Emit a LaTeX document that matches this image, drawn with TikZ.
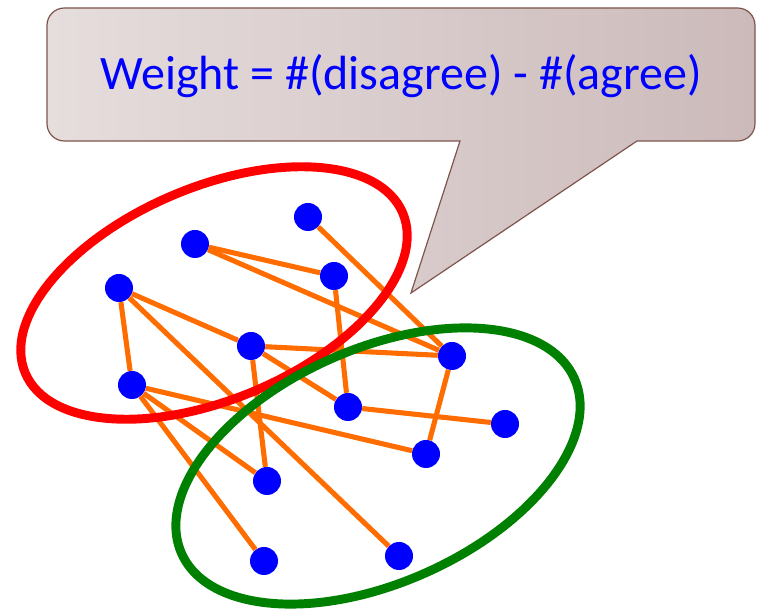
\documentclass[tikz,border=0pt]{standalone}
\usepackage{fontspec}
\setmainfont{Carlito}
\usepackage{xcolor}
\usepackage{tikz}
\usetikzlibrary{arrows.meta,positioning,calc}
\definecolor{cEdge}{RGB}{255,108,0}
\definecolor{cDot}{RGB}{0,0,255}
\definecolor{cRed}{RGB}{255,0,0}
\definecolor{cGreen}{RGB}{0,128,0}
\definecolor{cBubL}{RGB}{230,221,221}
\definecolor{cBubR}{RGB}{204,186,186}
\definecolor{cBubLine}{RGB}{125,85,75}
\tikzset{
  vtx/.style={circle, fill=cDot, minimum size=21pt, inner sep=0pt},
  edg/.style={draw=cEdge, line width=3.8pt},
  grp/.style={line width=6.7pt},
  bubble/.style={draw=cBubLine, line width=0.9pt, left color=cBubL, right color=cBubR},
}
\begin{document}
\begin{tikzpicture}[x=0.75pt, y=-0.75pt]
  \useasboundingbox (0,0) rectangle (758,609);
  % speech bubble
  \path[bubble] (460,141) -- (411,293) -- (637,141)
    [rounded corners=13pt] -- (755,141) -- (755,8) -- (47,8) -- (47,141)
    [sharp corners] -- cycle;
  \node[text=cDot, font=\fontsize{36}{43}\selectfont] (w) at (401,76) {Weight = \#(disagree) - \#(agree)};
  % vertices
  \node[vtx] (a) at (308,217) {};
  \node[vtx] (b) at (195,244) {};
  \node[vtx] (c) at (334,276) {};
  \node[vtx] (d) at (119,288) {};
  \node[vtx] (e) at (251,346) {};
  \node[vtx] (f) at (452,356) {};
  \node[vtx] (g) at (132,385) {};
  \node[vtx] (h) at (348,407) {};
  \node[vtx] (i) at (505,424) {};
  \node[vtx] (j) at (426,454) {};
  \node[vtx] (k) at (267,481) {};
  \node[vtx] (l) at (264,561) {};
  \node[vtx] (m) at (399,556) {};
  % edges
  \foreach \u/\v in {a/f, b/c, b/f, c/h, d/e, d/g, d/m, e/f, e/h, e/k,
                     f/j, g/j, g/k, g/l, h/i}
    \draw[edg] (\u) -- (\v);
  % groups
  \draw[grp, cRed, rotate around={23:(214,293)}] (214,293) ellipse [x radius=205, y radius=106];
  \draw[grp, cGreen, rotate around={24:(378,466)}] (378,466) ellipse [x radius=215, y radius=117];
\end{tikzpicture}
\end{document}
